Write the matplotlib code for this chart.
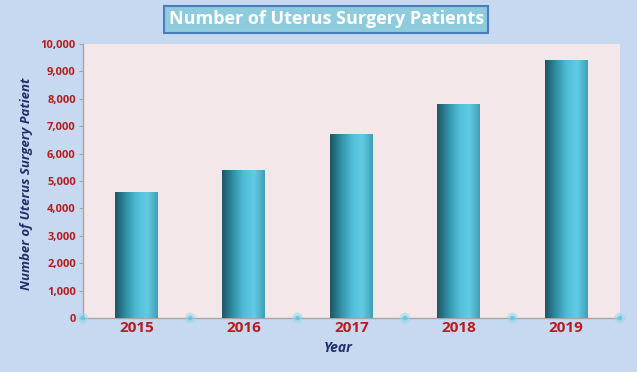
import matplotlib.pyplot as plt
import numpy as np
from matplotlib.colors import LinearSegmentedColormap
from matplotlib.ticker import FuncFormatter

years = ['2015', '2016', '2017', '2018', '2019']
patients = [4600, 5400, 6700, 7800, 9400]

fig = plt.figure(figsize=(6.37, 3.72), dpi=100)
fig.patch.set_facecolor('#c6d9f0')
ax = fig.add_axes([0.130, 0.145, 0.843, 0.737])
ax.set_facecolor('#f3e7ea')

# cylinder-ish shading across each bar
shade = LinearSegmentedColormap.from_list('shade', ['#1e5563', '#2f8ea3', '#4fbcd6', '#62cbe3', '#3e9fb7'])
grad = np.linspace(0, 1, 256).reshape(1, -1)
x = np.arange(len(years))
bw = 0.4
bars = ax.bar(x, patients, width=bw, color='none', edgecolor='none', zorder=3)
for b in bars:
    im = ax.imshow(grad, cmap=shade, aspect='auto', zorder=3,
                   extent=[b.get_x(), b.get_x() + b.get_width(), 0, b.get_height()])
    im.set_clip_path(b)

ax.set_xlim(-0.5, len(years) - 0.5)
ax.set_ylim(0, 10000)
ax.set_yticks(np.arange(0, 10001, 1000))
ax.yaxis.set_major_formatter(FuncFormatter(lambda v, p: f'{int(v):,}'))
ax.set_xticks(x)
ax.set_xticklabels(years)

for s in ['top', 'right']:
    ax.spines[s].set_visible(False)
for s in ['left', 'bottom']:
    ax.spines[s].set_color('#a6a6a6')
    ax.spines[s].set_linewidth(1)

ax.tick_params(axis='y', colors='#a6a6a6', labelcolor='#b81c1c', labelsize=8, length=3, pad=2)
ax.tick_params(axis='x', length=0, labelcolor='#b81c1c', labelsize=11, pad=2)
for t in ax.get_yticklabels():
    t.set_fontweight('bold')
    t.set_fontfamily('Open Sans')
for t in ax.get_xticklabels():
    t.set_fontweight('bold')
    t.set_fontfamily('Open Sans')

# glowing dots at category boundaries
bx = np.arange(-0.5, len(years), 1.0)
ax.scatter(bx, np.zeros_like(bx), s=60, color='#8fd8f0', alpha=0.5, clip_on=False, zorder=4, edgecolors='none')
ax.scatter(bx, np.zeros_like(bx), s=12, color='#5cc6e6', alpha=0.8, clip_on=False, zorder=4, edgecolors='none')

ax.set_ylabel('Number of Uterus Surgery Patient', color='#1f2f6b', fontsize=9.5,
              fontweight='bold', style='italic', family='Open Sans')
ax.yaxis.set_label_coords(-0.092, 0.489)
ax.set_xlabel('Year', color='#1f2f6b', fontsize=10, fontweight='bold', style='italic',
              family='Open Sans')
ax.xaxis.set_label_coords(0.475, -0.085)

fig.text(0.512, 0.948, 'Number of Uterus Surgery Patients', ha='center', va='center',
         color='white', fontsize=13, fontweight='bold', family='Open Sans',
         bbox=dict(boxstyle='square,pad=0.25', facecolor='#8ecbdc', edgecolor='#4a7ebb', linewidth=1.5))

fig.savefig('out.png', dpi=100, facecolor=fig.get_facecolor())
